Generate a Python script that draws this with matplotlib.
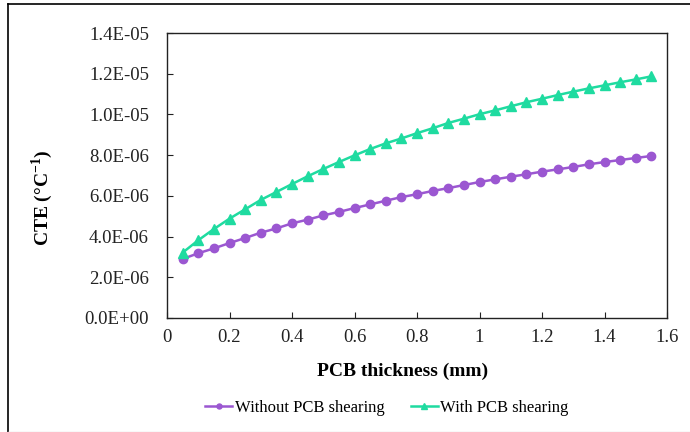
import matplotlib
matplotlib.use("Agg")
import matplotlib.pyplot as plt
from matplotlib.lines import Line2D
from matplotlib.ticker import FormatStrFormatter, FuncFormatter

# PCB thickness (mm)
thickness = [0.05, 0.10, 0.15, 0.20, 0.25, 0.30, 0.35, 0.40, 0.45, 0.50,
             0.55, 0.60, 0.65, 0.70, 0.75, 0.80, 0.85, 0.90, 0.95, 1.00,
             1.05, 1.10, 1.15, 1.20, 1.25, 1.30, 1.35, 1.40, 1.45, 1.50, 1.55]

# CTE values (x1e-6 /degC)
cte_without = [2.90, 3.18, 3.42, 3.68, 3.93, 4.19, 4.40, 4.65, 4.83, 5.04,
               5.21, 5.40, 5.58, 5.76, 5.94, 6.08, 6.24, 6.38, 6.53, 6.68,
               6.81, 6.94, 7.06, 7.19, 7.30, 7.42, 7.55, 7.66, 7.76, 7.86, 7.96]
cte_with = [3.21, 3.82, 4.37, 4.88, 5.34, 5.80, 6.19, 6.58, 6.96, 7.32,
            7.66, 7.99, 8.30, 8.58, 8.82, 9.08, 9.32, 9.58, 9.79, 10.01,
            10.20, 10.40, 10.60, 10.77, 10.95, 11.12, 11.28, 11.43, 11.58, 11.72, 11.87]

x_ticks = [0, 0.2, 0.4, 0.6, 0.8, 1.0, 1.2, 1.4, 1.6]
y_ticks = [0, 2e-6, 4e-6, 6e-6, 8e-6, 1e-5, 1.2e-5, 1.4e-5]

plt.rcParams['font.family'] = ['Liberation Serif', 'DejaVu Serif']
plt.rcParams['mathtext.fontset'] = 'custom'
plt.rcParams['mathtext.rm'] = 'Liberation Serif'
plt.rcParams['mathtext.bf'] = 'Liberation Serif:bold'

fig = plt.figure(figsize=(6.9, 4.32), dpi=100)
ax = fig.add_axes([167 / 690, 1 - 318 / 432, 500 / 690, 285 / 432])

purple = '#9b57d1'
green = '#1fdba0'

ax.plot(thickness, [v * 1e-6 for v in cte_without], color=purple, lw=1.8,
        marker='o', markersize=6, label='Without PCB shearing')
ax.plot(thickness, [v * 1e-6 for v in cte_with], color=green, lw=1.8,
        marker='^', markersize=6.5, label='With PCB shearing')

ax.set_xlim(0, 1.6)
ax.set_ylim(0, 1.4e-5)
ax.set_xticks(x_ticks)
ax.set_yticks(y_ticks)
ax.xaxis.set_major_formatter(FuncFormatter(lambda v, p: f'{v:g}'))
ax.yaxis.set_major_formatter(FormatStrFormatter('%.1E'))
ax.tick_params(axis='both', direction='in', length=4, width=0.8,
               labelsize=13.5, colors='#222222')
ax.tick_params(axis='x', pad=8)
ax.tick_params(axis='y', pad=13)
for s in ax.spines.values():
    s.set_linewidth(1.0)
    s.set_color('#222222')

ax.set_xlabel('PCB thickness (mm)', fontsize=14, fontweight='bold')
ax.xaxis.label.set_va('center')
ax.xaxis.set_label_coords((403 - 167) / 500, (318 - 371) / 285)
ax.set_ylabel(r'CTE (°C$^{\mathbf{-1}}$)', fontsize=14, fontweight='bold')
ax.yaxis.label.set_va('center')
ax.yaxis.set_label_coords((42 - 167) / 500, (318 - 198) / 285)

fig.legend(loc='center', bbox_to_anchor=(387 / 690, 1 - 408 / 432), ncol=2,
           frameon=False, fontsize=12, handlelength=1.6, columnspacing=1.6,
           handletextpad=0.15, markerscale=0.6)

# outer chart border
fig.add_artist(Line2D([8 / 690, 8 / 690], [0, 1 - 4 / 432], color='black', lw=1.2))
fig.add_artist(Line2D([8 / 690, 1], [1 - 4 / 432, 1 - 4 / 432], color='black', lw=1.2))
fig.add_artist(Line2D([8 / 690, 1], [0.5 / 432, 0.5 / 432], color='#dddddd', lw=1))

fig.savefig('out.png', dpi=100)
